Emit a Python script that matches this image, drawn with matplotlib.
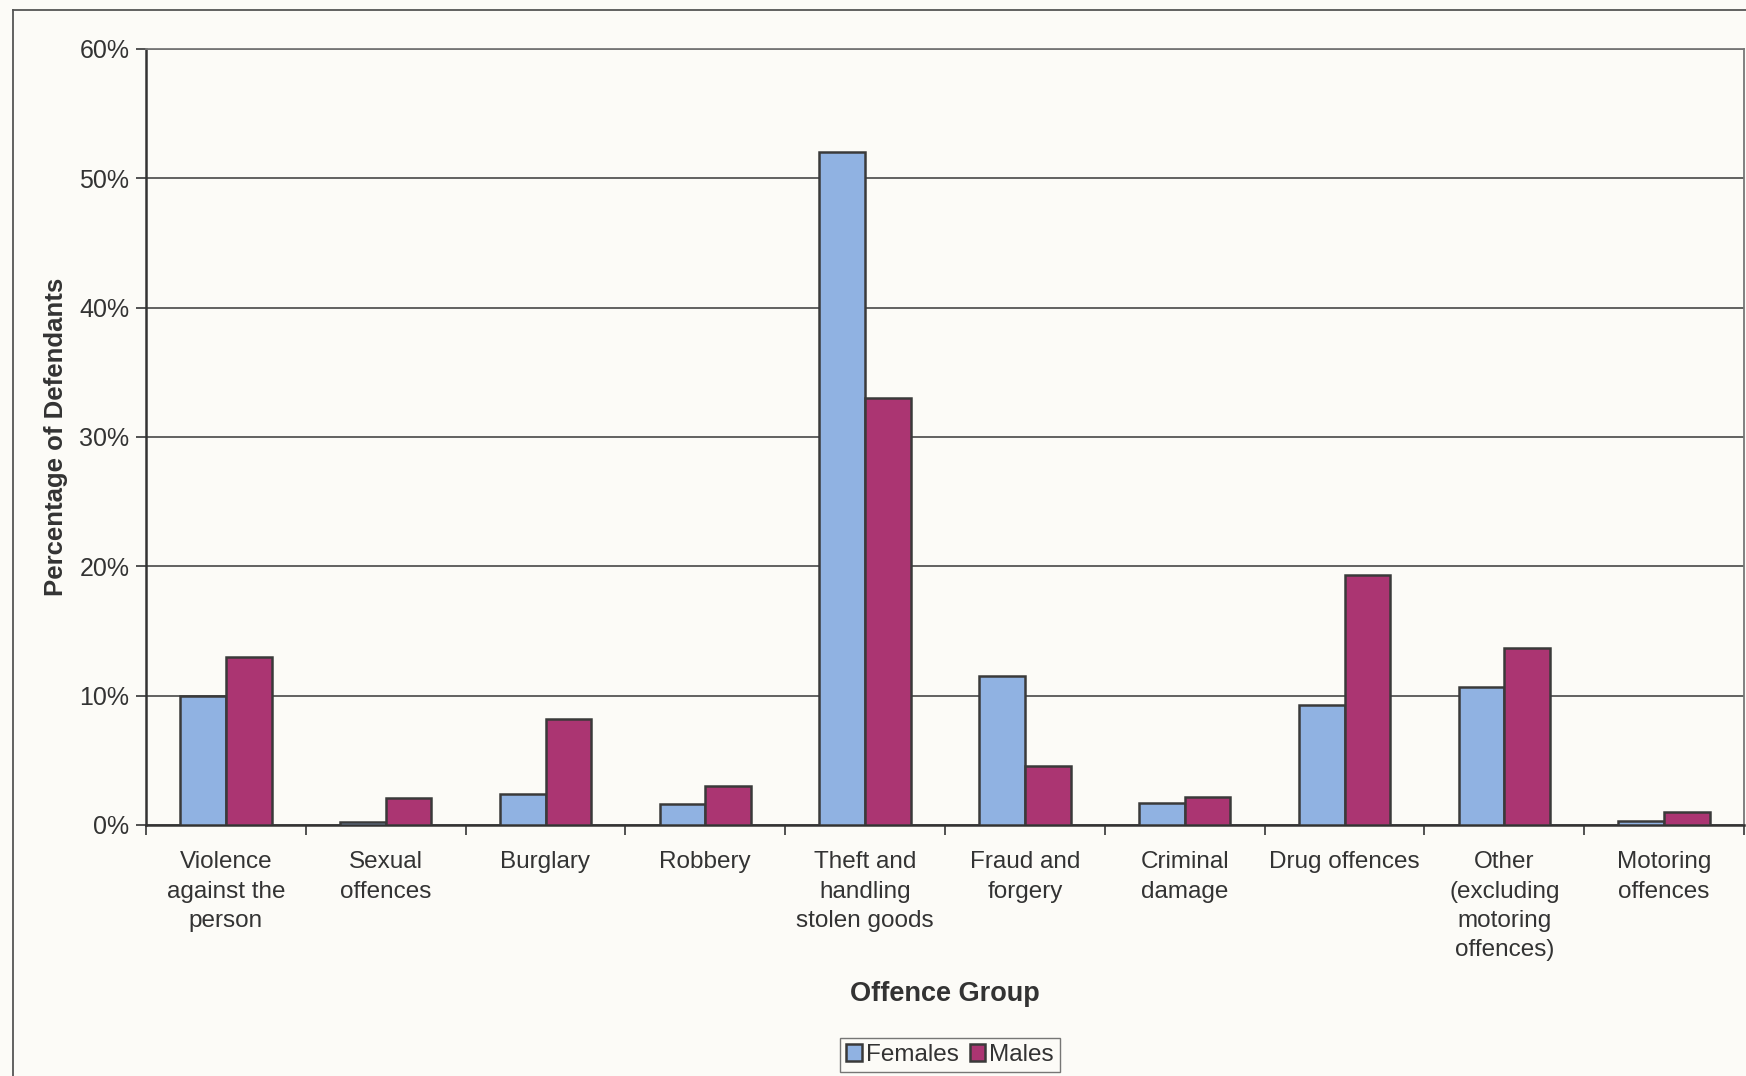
import matplotlib
matplotlib.use("Agg")
import matplotlib.pyplot as plt
from matplotlib.lines import Line2D
from matplotlib.ticker import FuncFormatter, FixedLocator
import numpy as np

plt.rcParams['font.family'] = ['Liberation Sans', 'DejaVu Sans']

categories = [
    "Violence\nagainst the\nperson",
    "Sexual\noffences",
    "Burglary",
    "Robbery",
    "Theft and\nhandling\nstolen goods",
    "Fraud and\nforgery",
    "Criminal\ndamage",
    "Drug offences",
    "Other\n(excluding\nmotoring\noffences)",
    "Motoring\noffences",
]
females = [10.0, 0.2, 2.4, 1.6, 52.0, 11.5, 1.7, 9.3, 10.7, 0.3]
males = [13.0, 2.1, 8.2, 3.0, 33.0, 4.6, 2.2, 19.3, 13.7, 1.0]
series_names = ["Females", "Males"]
y_ticks = [0, 10, 20, 30, 40, 50, 60]

W, H = 1746, 1076
bg = "#fcfbf7"
text_c = "#333333"
fem_c = "#90b2e2"
mal_c = "#ab3572"
edge_c = "#3a3a3a"

fig = plt.figure(figsize=(W / 100, H / 100), dpi=100, facecolor=bg)
ax = fig.add_axes([146 / W, 1 - 825 / H, (1744 - 146) / W, (825 - 49) / H])
ax.set_facecolor(bg)

x = np.arange(len(categories))
bw = 1 / 3.5
ax.bar(x - bw / 2, females, bw, color=fem_c, edgecolor=edge_c, linewidth=1.8,
       label=series_names[0], zorder=3)
ax.bar(x + bw / 2, males, bw, color=mal_c, edgecolor=edge_c, linewidth=1.8,
       label=series_names[1], zorder=3)

ax.set_xlim(-0.5, len(categories) - 0.5)
ax.set_ylim(0, 60)
ax.yaxis.set_major_locator(FixedLocator(y_ticks))
ax.yaxis.set_major_formatter(FuncFormatter(lambda v, p: f"{int(v)}%"))
ax.grid(axis="y", color="#555555", linewidth=1.3, zorder=0)

# category labels centred under groups, tick marks on the boundaries
ax.set_xticks(np.arange(-0.5, len(categories), 1.0))
ax.set_xticklabels([])
ax.set_xticks(x, minor=True)
ax.set_xticklabels(categories, minor=True, fontsize=17.5, color=text_c,
                   linespacing=1.43)
ax.tick_params(axis="x", which="minor", length=0, pad=19)
ax.tick_params(axis="x", which="major", direction="out", length=7,
               width=1.3, color="#444444")
ax.tick_params(axis="y", direction="out", length=7, width=1.3,
               color="#444444", labelsize=18, labelcolor=text_c, pad=5)

for s in ["left", "bottom"]:
    ax.spines[s].set_color("#333333")
    ax.spines[s].set_linewidth(1.8)
for s in ["top", "right"]:
    ax.spines[s].set_color("#777777")
    ax.spines[s].set_linewidth(1.3)

ax.set_xlabel("Offence Group", fontsize=19.5, fontweight="bold",
              color=text_c, labelpad=14)
ax.set_ylabel("Percentage of Defendants", fontsize=18.5, fontweight="bold",
              color=text_c, labelpad=8)

leg = ax.legend(loc="center", bbox_to_anchor=(950 / W, 1 - 1055 / H),
                bbox_transform=fig.transFigure, ncol=2, fontsize=17.5,
                frameon=True, fancybox=False, handlelength=0.65,
                handleheight=0.65, handletextpad=0.15, columnspacing=0.45,
                borderpad=0.25, borderaxespad=0)
leg.get_frame().set_edgecolor("#555555")
leg.get_frame().set_linewidth(1.0)
leg.get_frame().set_facecolor(bg)
for t in leg.get_texts():
    t.set_color(text_c)

# outer chart-area frame
fig.add_artist(Line2D([13 / W, 13 / W], [0, 1 - 10 / H],
                      transform=fig.transFigure, color="#555555", lw=1.3))
fig.add_artist(Line2D([13 / W, 1], [1 - 10 / H, 1 - 10 / H],
                      transform=fig.transFigure, color="#555555", lw=1.3))

fig.savefig("out.png", dpi=100, facecolor=bg)
